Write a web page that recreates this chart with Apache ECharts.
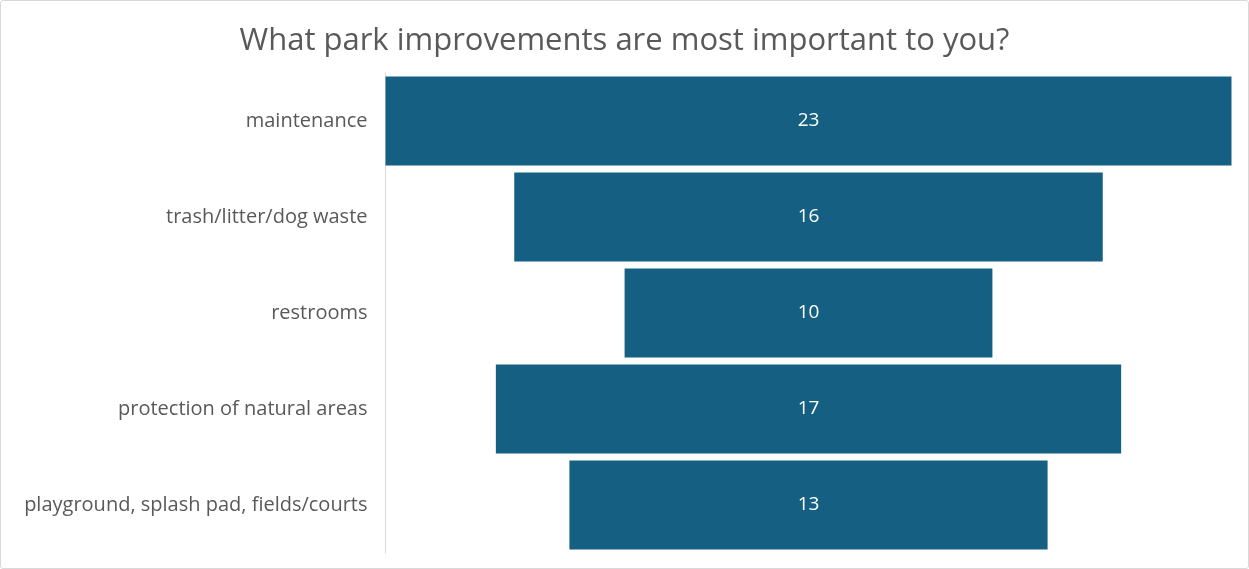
<!DOCTYPE html>
<html><head><meta charset="utf-8">
<script src="https://cdn.jsdelivr.net/npm/echarts@6/dist/echarts.min.js"></script>
<style>
html,body{margin:0;padding:0;background:#fff;}
#c{width:1249px;height:569px;box-sizing:border-box;border:1px solid #d9d9d9;border-radius:3px;}
</style></head>
<body><div id="c"></div>
<script>
const title = 'What park improvements are most important to you?';
const categories = ['maintenance','trash/litter/dog waste','restrooms','protection of natural areas','playground, splash pad, fields/courts'];
const values = [23,16,10,17,13];
const maxValue = Math.max(...values);
const offsets = values.map(v => (maxValue - v) / 2);

const chart = echarts.init(document.getElementById('c'), null, {renderer:'canvas'});
chart.setOption({
  animation:false,
  title:{text:title,left:'center',top:20,textStyle:{fontFamily:'Open Sans',fontSize:31,fontWeight:'normal',color:'#595959'}},
  grid:{left:384.5,right:16.5,top:72,bottom:15},
  xAxis:{type:'value',min:0,max:maxValue,show:false},
  yAxis:{type:'category',data:categories,inverse:true,
    axisLine:{show:true,lineStyle:{color:'#d9d9d9',width:1}},
    axisTick:{show:false},
    axisLabel:{margin:18,fontFamily:'Open Sans',fontSize:20,color:'#595959'}},
  series:[
    {type:'bar',stack:'f',data:offsets,itemStyle:{color:'transparent'},barWidth:89,silent:true},
    {type:'bar',stack:'f',data:values,barWidth:89,itemStyle:{color:'#156082'},
     label:{show:true,position:'inside',color:'#ffffff',fontFamily:'Open Sans',fontSize:19}}
  ]
});
</script></body></html>
